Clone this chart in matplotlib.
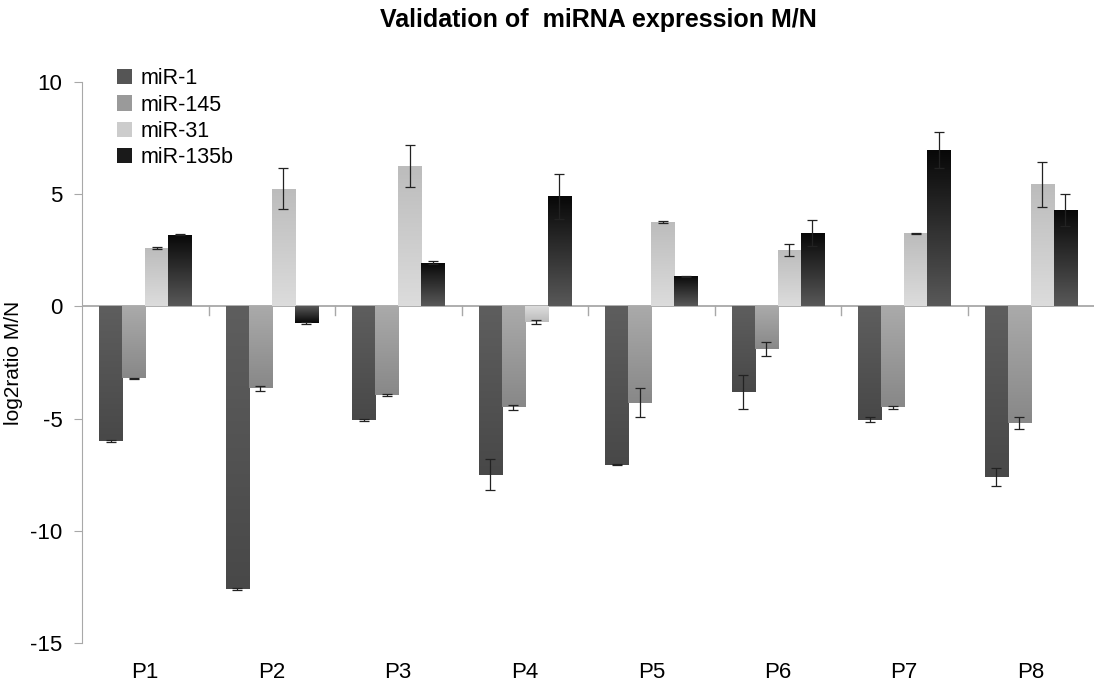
import numpy as np
import matplotlib
matplotlib.use("Agg")
import matplotlib.pyplot as plt
from matplotlib.colors import LinearSegmentedColormap
from matplotlib.patches import Patch

plt.rcParams['font.family'] = ['Liberation Sans', 'DejaVu Sans']
plt.rcParams['axes.unicode_minus'] = False

patients = ['P1', 'P2', 'P3', 'P4', 'P5', 'P6', 'P7', 'P8']
series = ['miR-1', 'miR-145', 'miR-31', 'miR-135b']

mir1 = [-6.0, -12.6, -5.05, -7.5, -7.05, -3.8, -5.05, -7.6]
mir1_err = [0.05, 0.05, 0.05, 0.7, 0.03, 0.75, 0.12, 0.4]
mir145 = [-3.2, -3.65, -3.95, -4.5, -4.3, -1.9, -4.5, -5.2]
mir145_err = [0.03, 0.12, 0.05, 0.12, 0.65, 0.3, 0.06, 0.25]
mir31 = [2.6, 5.25, 6.25, -0.7, 3.75, 2.5, 3.25, 5.45]
mir31_err = [0.03, 0.9, 0.95, 0.08, 0.05, 0.27, 0.02, 1.0]
mir135b = [3.2, -0.75, 1.95, 4.9, 1.35, 3.25, 6.95, 4.3]
mir135b_err = [0.02, 0.04, 0.08, 1.0, 0.02, 0.58, 0.8, 0.7]

values = [mir1, mir145, mir31, mir135b]
errors = [mir1_err, mir145_err, mir31_err, mir135b_err]
# (colour next to zero, colour at the bar's far end)
shades = [('#5e5e5e', '#484848'), ('#aaaaaa', '#888888'),
          ('#dcdcdc', '#bcbcbc'), ('#585858', '#080808')]
legend_cols = ['#555555', '#9a9a9a', '#cccccc', '#1a1a1a']

fig = plt.figure(figsize=(10.94, 6.87), dpi=100)
ax = fig.add_axes([82 / 1094, 1 - 643 / 687, 1012 / 1094, 561 / 687])

x = np.arange(len(patients))
w = 0.182
for i, (vals, errs, (c0, c1)) in enumerate(zip(values, errors, shades)):
    pos = x + (i - 1.5) * w
    bars = ax.bar(pos, vals, width=w, color='none', edgecolor='none', zorder=2)
    cmap = LinearSegmentedColormap.from_list('g%d' % i, [c0, c1])
    for b in bars:
        x0, h = b.get_x(), b.get_height()
        grad = np.linspace(0, 1, 64).reshape(-1, 1)
        if h < 0:
            grad = grad[::-1]
        img = ax.imshow(grad, cmap=cmap, aspect='auto', origin='lower',
                        extent=[x0, x0 + w, min(0, h), max(0, h)], zorder=2)
        img.set_clip_path(b)
    ax.errorbar(pos, vals, yerr=errs, fmt='none', ecolor='#222222',
                elinewidth=0.9, capsize=3.3, capthick=0.9, zorder=3)

ax.axhline(0, color='#a8a8a8', lw=1.3, zorder=1)
for b in np.arange(0.5, len(patients) - 1, 1.0):
    ax.plot([b, b], [0, -0.38], color='#a8a8a8', lw=1, zorder=1)

ax.set_xlim(-0.5, len(patients) - 0.5)
ax.set_ylim(-15, 10)
ax.set_yticks([-15, -10, -5, 0, 5, 10])
ax.set_xticks(x)
ax.set_xticklabels(patients, fontsize=16)
ax.tick_params(axis='x', length=0, pad=14)
ax.tick_params(axis='y', labelsize=16, length=6, color='#a8a8a8',
               direction='out', pad=8)
for s in ['top', 'right', 'bottom']:
    ax.spines[s].set_visible(False)
ax.spines['left'].set_color('#a8a8a8')
ax.set_ylabel('log2ratio M/N', fontsize=15, labelpad=5)

fig.text(598 / 1094, 1 - 20 / 687, 'Validation of  miRNA expression M/N',
         fontsize=18, fontweight='bold', ha='center', va='center')

handles = [Patch(facecolor=c, label=lab) for c, lab in zip(legend_cols, series)]
ax.legend(handles=handles, loc='upper left', bbox_to_anchor=(0.026, 1.04),
          frameon=False, fontsize=15.5, handlelength=0.7, handleheight=0.7,
          handletextpad=0.4, labelspacing=0.25, borderaxespad=0)

fig.savefig('out.png', dpi=100)
